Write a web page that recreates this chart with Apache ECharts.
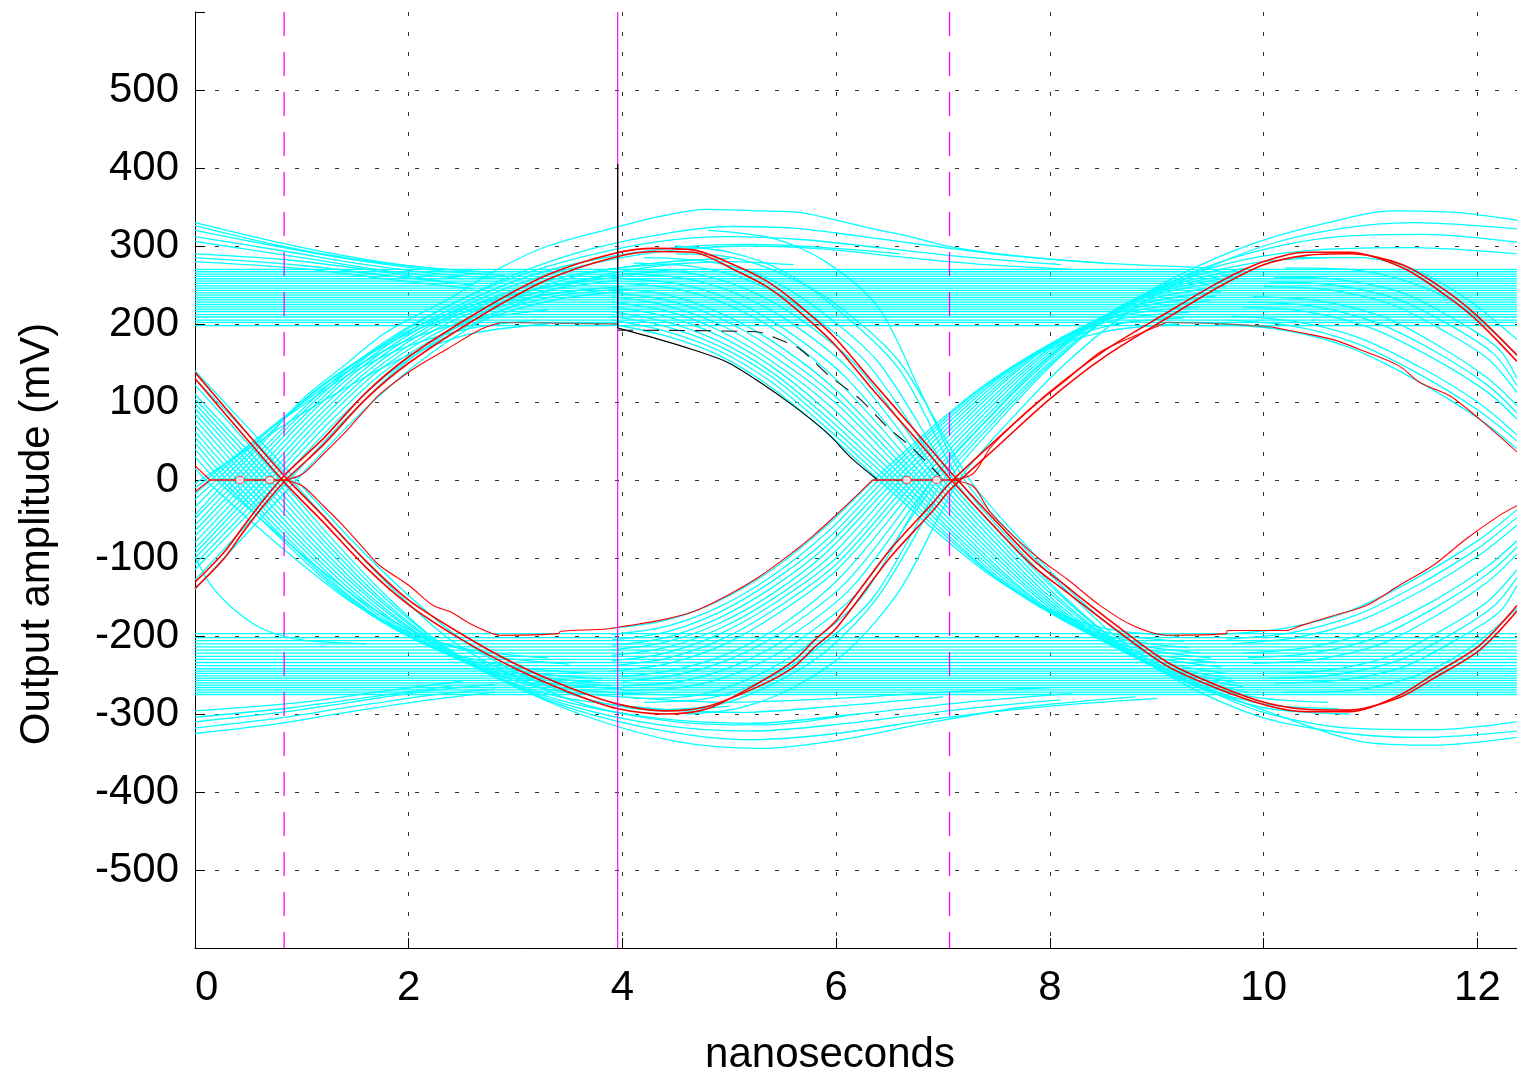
<!DOCTYPE html>
<html>
<head>
<meta charset="utf-8">
<title>Eye diagram</title>
<script src="https://cdn.jsdelivr.net/npm/echarts@6/dist/echarts.min.js"></script>
<style>
  html, body { margin: 0; padding: 0; background: #fff; }
  #main { width: 1517px; height: 1073px; }
</style>
</head>
<body>
<div id="main"></div>
<script>
// axis extents (ns, mV)
var timeSpan = [0, 12.37];
var ampSpan = [-600, 600];

// flat settled levels (mV), full width
var highLevels = [198, 202, 205, 209, 212, 216, 219, 222, 225, 228, 231, 234, 237, 240, 243, 246, 249, 252, 255, 258, 261, 264, 267, 270];
var lowLevels = [-197, -202, -206, -210, -214, -218, -222, -226, -230, -234, -238, -242, -245, -248, -251, -254, -257, -260, -263, -266, -269, -272, -275];

// arcs entering at the left edge
var arcsUpLeft = [
  [[0,330],[0.8,304],[1.42,287],[2.04,274],[2.6,268]],
  [[0,326],[0.8,300],[1.5,283],[2.2,272],[2.8,266]],
  [[0,320],[0.9,296],[1.6,280],[2.3,268],[2.9,262]],
  [[0,312],[0.9,292],[1.6,276],[2.3,264],[2.9,258]],
  [[0,306],[1.0,285],[1.8,268],[2.5,258]],
  [[0,290],[0.8,283],[1.6,270],[2.3,255]],
  [[0,285],[1.0,275],[1.8,262],[2.6,250]],
  [[0,280],[1.0,271],[1.9,256],[2.6,245]]
];
var arcsLowLeft = [
  [[0,-325],[0.8,-312],[1.5,-296],[2.2,-282],[2.8,-272]],
  [[0,-318],[0.8,-305],[1.5,-290],[2.2,-276],[2.8,-268]],
  [[0,-310],[0.8,-298],[1.5,-284],[2.2,-270],[2.8,-262]],
  [[0,-304],[0.9,-292],[1.7,-277],[2.4,-264]],
  [[0,-296],[1.0,-285],[1.8,-270],[2.5,-258]]
];

// transitions through the first crossing (~0.85 ns)
var fall0Traces = [
  [[0,15],[0.1,0],[0.5,-50],[1.0,-108],[1.5,-160],[2.0,-195],[2.6,-218],[3.3,-228]],
  [[0,30],[0.2,0],[0.7,-60],[1.2,-118],[1.7,-168],[2.2,-204],[2.8,-226],[3.5,-236]],
  [[0,40],[0.25,0],[0.75,-68],[1.25,-132],[1.75,-182],[2.3,-218],[3.0,-240],[3.7,-248]],
  [[0,48],[0.3,0],[0.8,-70],[1.3,-135],[1.8,-185],[2.35,-222],[3.05,-245],[3.8,-255]],
  [[0,55],[0.35,0],[0.85,-72],[1.35,-138],[1.85,-188],[2.4,-225],[3.1,-250],[3.8,-260]],
  [[0,62],[0.4,0],[0.9,-73],[1.4,-139],[1.9,-190],[2.45,-228],[3.15,-254],[3.9,-264]],
  [[0,70],[0.45,0],[0.95,-74],[1.45,-140],[1.95,-192],[2.5,-232],[3.2,-258],[4.0,-268]],
  [[0,78],[0.5,0],[1.0,-75],[1.5,-141],[2.0,-194],[2.55,-235],[3.25,-263],[4.1,-274],[5.0,-276]],
  [[0,85],[0.55,0],[1.05,-75],[1.55,-142],[2.05,-195],[2.6,-238],[3.3,-268],[4.2,-280],[5.0,-285],[6.0,-280],[7.0,-272],[8.0,-266]],
  [[0,92],[0.6,0],[1.1,-76],[1.6,-144],[2.1,-198],[2.65,-242],[3.35,-276],[4.2,-292],[5.1,-298],[6.0,-290],[7.0,-278]],
  [[0,98],[0.65,0],[1.15,-76],[1.65,-145],[2.15,-200],[2.7,-245],[3.4,-282],[4.3,-305],[5.2,-312],[6.2,-300],[7.2,-285],[8.2,-274]],
  [[0,104],[0.7,0],[1.2,-77],[1.7,-147],[2.2,-203],[2.75,-249],[3.45,-287],[4.35,-314],[5.2,-322],[6.1,-312],[7.1,-295],[8.1,-282]],
  [[0,110],[0.75,0],[1.25,-78],[1.75,-148],[2.25,-205],[2.8,-252],[3.5,-292],[4.4,-322],[5.2,-333],[6.0,-325],[7.0,-305],[8.0,-290],[9.0,-280]],
  [[0,122],[0.8,0],[1.3,-78],[1.8,-150],[2.3,-210],[2.9,-258],[3.6,-300],[4.5,-335],[5.3,-344],[6.0,-334],[6.8,-313],[7.7,-292],[8.8,-278]],
  [[0,130],[0.9,0],[1.4,-76],[1.9,-146],[2.4,-206],[3.0,-252],[3.7,-290],[4.5,-310],[5.3,-314],[6.1,-302]],
  [[0,140],[0.95,0],[1.45,-75],[1.95,-142],[2.45,-200],[3.0,-246],[3.7,-282],[4.4,-296],[5.0,-290]],
  [[0,-98],[0.15,-135],[0.4,-170],[0.65,-192],[1.0,-205],[1.6,-210]]
];
var rise0Traces = [
  [[0,-5],[0.05,0],[0.55,45],[1.0,85],[1.5,125],[2.0,160],[2.6,188],[3.3,200]],
  [[0,-10],[0.1,0],[0.6,55],[1.0,95],[1.5,140],[2.0,172],[2.6,195],[3.2,205]],
  [[0,-18],[0.15,0],[0.6,55],[1.0,98],[1.5,145],[2.0,180],[2.6,205],[3.3,218]],
  [[0,-25],[0.2,0],[0.6,52],[1.0,100],[1.5,150],[2.0,188],[2.6,218],[3.3,238],[4.0,248]],
  [[0,-35],[0.25,0],[0.7,60],[1.1,112],[1.6,160],[2.1,198],[2.7,228],[3.4,250],[4.1,262]],
  [[0,-45],[0.3,0],[0.64,48],[1.01,104],[1.39,146],[1.73,184],[2.0,206],[2.36,231],[2.83,270],[3.3,300],[3.91,323],[4.35,338],[4.79,347],[5.29,345],[5.66,343],[5.97,334],[6.38,321],[6.69,312],[7.07,299],[7.72,287],[8.5,278],[9.5,272]],
  [[0,-50],[0.35,0],[0.85,70],[1.35,134],[1.85,184],[2.35,222],[2.95,258],[3.6,285],[4.3,305],[5.0,312],[5.7,308],[6.4,298],[7.2,286],[8.1,276]],
  [[0,-58],[0.4,0],[0.9,72],[1.4,136],[1.9,186],[2.4,225],[3.0,264],[3.7,296],[4.4,316],[5.0,325],[5.6,323],[6.2,313],[6.9,300],[7.6,288],[8.5,278]],
  [[0,-65],[0.45,0],[0.95,73],[1.45,137],[1.95,186],[2.45,223],[3.05,258],[3.75,283],[4.5,298],[5.2,302],[5.9,298],[6.6,290]],
  [[0,-72],[0.5,0],[1.0,74],[1.5,138],[2.0,186],[2.5,222],[3.1,255],[3.8,280],[4.5,295],[5.2,300],[5.9,296],[6.6,286],[7.4,276],[8.2,270]],
  [[0,-80],[0.55,0],[1.05,74],[1.55,138],[2.05,186],[2.55,221],[3.15,250],[3.85,270],[4.6,278]],
  [[0,-88],[0.6,0],[1.1,74],[1.6,138],[2.1,186],[2.6,220],[3.2,245],[3.9,262],[4.6,268]],
  [[0,-94],[0.65,0],[1.15,74],[1.65,138],[2.15,185],[2.65,218],[3.25,242],[3.95,256]],
  [[0,-100],[0.7,0],[1.2,74],[1.7,138],[2.2,184],[2.7,215],[3.3,238],[4.0,248]],
  [[0,-108],[0.75,0],[1.25,73],[1.75,137],[2.25,182],[2.75,212],[3.35,235],[4.0,245]],
  [[0,-115],[0.8,0],[1.3,72],[1.8,135],[2.3,180],[2.8,210],[3.4,232],[4.0,242]],
  [[0,-128],[0.88,0],[1.38,74],[1.88,140],[2.4,192],[3.0,235],[3.6,262],[4.3,278],[5.0,284]],
  [[0,-140],[0.95,0],[1.45,72],[1.95,135],[2.45,185],[3.0,225],[3.6,255],[4.2,272],[5.0,280],[5.6,276]]
];

// transitions through the second crossing (~7.07 ns)
var fall1Traces = [
  [[3.9,200],[4.4,185],[4.9,160],[5.4,118],[5.9,62],[6.4,0],[6.9,-62],[7.4,-118],[7.9,-160],[8.5,-190],[9.2,-200]],
  [[3.9,205],[4.4,191],[4.9,166],[5.4,125],[5.9,68],[6.45,0],[6.95,-63],[7.45,-121],[7.95,-165],[8.55,-196],[9.25,-207]],
  [[3.9,210],[4.4,197],[4.9,172],[5.4,132],[5.9,75],[6.5,0],[7.0,-65],[7.5,-125],[8.0,-170],[8.6,-202],[9.3,-215]],
  [[3.9,216],[4.4,203],[4.9,178],[5.4,138],[5.9,82],[6.55,0],[7.05,-66],[7.55,-128],[8.05,-174],[8.65,-207],[9.4,-222]],
  [[3.9,222],[4.4,210],[4.9,185],[5.4,145],[5.9,90],[6.6,0],[7.1,-68],[7.6,-130],[8.1,-178],[8.7,-212],[9.5,-228]],
  [[3.9,228],[4.4,217],[4.9,192],[5.4,152],[5.95,94],[6.65,0],[7.15,-69],[7.65,-132],[8.15,-182],[8.75,-217],[9.55,-234]],
  [[3.9,235],[4.4,224],[4.9,200],[5.4,160],[6.0,98],[6.7,0],[7.2,-70],[7.7,-135],[8.2,-185],[8.8,-222],[9.6,-240]],
  [[3.9,240],[4.4,231],[4.9,208],[5.4,169],[6.0,106],[6.75,0],[7.25,-71],[7.75,-136],[8.25,-188],[8.85,-227],[9.65,-248]],
  [[3.9,245],[4.4,238],[4.9,215],[5.4,178],[6.0,115],[6.8,0],[7.3,-72],[7.8,-138],[8.3,-190],[8.9,-232],[9.7,-255]],
  [[4.0,252],[4.5,245],[5.0,224],[5.5,186],[6.05,122],[6.85,0],[7.35,-73],[7.85,-140],[8.35,-193],[8.95,-236],[9.75,-260]],
  [[4.0,258],[4.5,252],[5.0,232],[5.5,195],[6.1,130],[6.9,0],[7.4,-74],[7.9,-142],[8.4,-196],[9.0,-240],[9.8,-265]],
  [[4.0,264],[4.55,259],[5.05,240],[5.55,204],[6.15,138],[6.95,0],[7.45,-75],[7.95,-144],[8.45,-198],[9.05,-244],[9.85,-272]],
  [[4.0,270],[4.6,266],[5.1,248],[5.6,212],[6.2,145],[7.0,0],[7.5,-76],[8.0,-145],[8.5,-200],[9.1,-248],[9.9,-278],[10.6,-285]],
  [[4.1,278],[4.7,273],[5.2,255],[5.7,218],[6.3,148],[7.05,0],[7.55,-77],[8.05,-147],[8.55,-203],[9.15,-252],[9.95,-286],[10.7,-293]],
  [[4.2,285],[4.8,280],[5.3,262],[5.8,222],[6.4,150],[7.1,0],[7.6,-78],[8.1,-148],[8.6,-205],[9.2,-255],[10.0,-292],[10.8,-300]],
  [[4.5,300],[5.0,292],[5.5,268],[6.0,220],[6.6,140],[7.15,0],[7.65,-80],[8.15,-152],[8.7,-215],[9.3,-265],[10.0,-305],[10.8,-325],[11.5,-330],[12.37,-322]],
  [[4.8,320],[5.4,310],[5.9,280],[6.4,220],[6.8,110],[7.2,0],[7.7,-78],[8.2,-148],[8.7,-210],[9.3,-258],[10.0,-298],[10.8,-318],[11.6,-320],[12.37,-310]],
  [[4.5,290],[5.0,286],[5.5,264],[6.0,225],[6.6,150],[7.25,0],[7.75,-80],[8.25,-150],[8.8,-212],[9.4,-262],[10.1,-300],[10.9,-335],[11.6,-340],[12.37,-330]]
];
var rise1Traces = [
  [[3.9,-190],[4.4,-180],[4.9,-155],[5.4,-115],[5.9,-60],[6.35,0],[6.85,62],[7.35,118],[7.85,160],[8.5,190],[9.2,200]],
  [[3.9,-198],[4.4,-188],[4.9,-163],[5.4,-123],[5.9,-69],[6.4,0],[6.9,64],[7.4,122],[7.9,165],[8.55,198],[9.25,208]],
  [[3.9,-205],[4.4,-195],[4.9,-170],[5.4,-130],[5.9,-78],[6.45,0],[6.95,66],[7.45,125],[7.95,170],[8.6,205],[9.3,215]],
  [[3.9,-212],[4.4,-202],[4.9,-177],[5.4,-138],[5.9,-86],[6.5,0],[7.0,67],[7.5,128],[8.0,174],[8.65,210],[9.4,222]],
  [[3.9,-218],[4.4,-208],[4.9,-184],[5.4,-146],[5.9,-94],[6.55,0],[7.05,68],[7.55,130],[8.05,178],[8.7,214],[9.5,230]],
  [[3.9,-225],[4.4,-215],[4.9,-191],[5.4,-153],[5.95,-97],[6.6,0],[7.1,69],[7.6,132],[8.1,182],[8.75,219],[9.55,236]],
  [[3.9,-232],[4.4,-222],[4.9,-198],[5.4,-160],[6.0,-100],[6.65,0],[7.15,70],[7.65,135],[8.15,185],[8.8,224],[9.6,242]],
  [[3.9,-238],[4.4,-229],[4.9,-206],[5.4,-168],[6.0,-108],[6.7,0],[7.2,71],[7.7,136],[8.2,188],[8.85,229],[9.65,249]],
  [[3.9,-245],[4.4,-236],[4.9,-214],[5.4,-176],[6.0,-116],[6.75,0],[7.25,72],[7.75,138],[8.25,190],[8.9,234],[9.7,256]],
  [[4.0,-252],[4.5,-243],[5.0,-222],[5.5,-185],[6.05,-123],[6.8,0],[7.3,73],[7.8,140],[8.3,193],[8.95,238],[9.75,261]],
  [[4.0,-258],[4.5,-250],[5.0,-230],[5.5,-194],[6.1,-130],[6.85,0],[7.35,74],[7.85,142],[8.35,196],[9.0,242],[9.8,266]],
  [[4.0,-264],[4.55,-258],[5.05,-238],[5.55,-202],[6.15,-137],[6.9,0],[7.4,75],[7.9,143],[8.4,198],[9.05,246],[9.85,272]],
  [[4.0,-270],[4.6,-265],[5.1,-246],[5.6,-210],[6.2,-144],[6.95,0],[7.45,76],[7.95,145],[8.45,200],[9.1,250],[9.9,278],[10.6,285]],
  [[4.1,-280],[4.7,-276],[5.2,-254],[5.7,-215],[6.25,-148],[6.9,0],[7.4,76],[7.9,146],[8.45,205],[9.1,252],[9.8,282],[10.6,296],[11.4,298],[12.37,290]],
  [[4.2,-285],[4.8,-280],[5.3,-258],[5.8,-218],[6.35,-150],[7.0,0],[7.5,78],[8.0,148],[8.55,208],[9.2,258],[9.9,292],[10.7,312],[11.5,315],[12.37,305]],
  [[4.3,-295],[4.9,-288],[5.4,-262],[5.9,-220],[6.4,-148],[7.05,0],[7.55,80],[8.05,152],[8.6,214],[9.2,262],[9.9,303],[10.6,330],[11.2,345],[11.8,343],[12.37,333]],
  [[4.6,-300],[5.1,-292],[5.6,-266],[6.1,-220],[6.6,-140],[7.15,0],[7.65,80],[8.15,150],[8.7,212],[9.3,260],[10.0,300],[10.7,322],[11.4,330],[12.37,322]]
];

// transitions heading for the next crossing, cut by the right edge
var fall2Traces = [
  [[9.6,200],[10.2,192],[10.8,170],[11.4,130],[12.0,80],[12.37,40]],
  [[9.65,205],[10.25,198],[10.85,176],[11.45,136],[12.0,90],[12.37,50]],
  [[9.7,210],[10.3,203],[10.9,182],[11.5,142],[12.0,100],[12.37,58]],
  [[9.8,222],[10.4,216],[11.0,195],[11.6,155],[12.1,112],[12.37,78]],
  [[9.85,228],[10.45,223],[11.05,202],[11.6,165],[12.1,121],[12.37,86]],
  [[9.9,235],[10.5,230],[11.1,210],[11.6,175],[12.1,130],[12.37,95]],
  [[10.0,248],[10.6,244],[11.2,225],[11.7,190],[12.1,155],[12.37,112]],
  [[10.05,254],[10.65,250],[11.25,232],[11.75,198],[12.15,162],[12.37,121]],
  [[10.1,260],[10.7,257],[11.3,240],[11.8,205],[12.2,168],[12.37,130]],
  [[10.2,272],[10.8,270],[11.4,252],[11.9,218],[12.37,160]],
  [[10.3,285],[10.9,285],[11.4,270],[11.9,232],[12.37,180]]
];
var rise2Traces = [
  [[9.6,-198],[10.2,-190],[10.8,-168],[11.4,-128],[12.0,-78],[12.37,-38]],
  [[9.65,-204],[10.25,-196],[10.85,-174],[11.45,-134],[12.0,-88],[12.37,-48]],
  [[9.7,-210],[10.3,-202],[10.9,-180],[11.5,-140],[12.0,-98],[12.37,-58]],
  [[9.8,-222],[10.4,-215],[11.0,-194],[11.6,-154],[12.1,-110],[12.37,-78]],
  [[9.85,-228],[10.45,-222],[11.05,-202],[11.6,-164],[12.1,-120],[12.37,-86]],
  [[9.9,-235],[10.5,-230],[11.1,-210],[11.6,-175],[12.1,-130],[12.37,-95]],
  [[10.0,-248],[10.6,-244],[11.2,-225],[11.7,-190],[12.1,-155],[12.37,-115]],
  [[10.05,-254],[10.65,-250],[11.25,-232],[11.75,-198],[12.15,-162],[12.37,-125]],
  [[10.1,-260],[10.7,-257],[11.3,-240],[11.8,-205],[12.2,-170],[12.37,-135]],
  [[10.2,-272],[10.8,-270],[11.4,-252],[11.9,-218],[12.37,-165]]
];

// red reference pattern (two close copies each)
var redFallA = [
  [[0,130],[0.4,66],[0.85,-5],[1.2,-54],[1.6,-112],[2,-160],[2.5,-205],[3,-242],[3.5,-272],[3.95,-293],[4.4,-300],[4.8,-293],[5.3,-258],[5.6,-232],[5.8,-205],[6,-180],[6.5,-90],[6.9,-30],[7.07,-3],[7.5,52],[8,113],[8.5,165],[9.1,215],[9.6,255],[10,280],[10.4,292],[10.8,292],[11.3,272],[11.7,237],[12,204],[12.37,152]],
  [[0,138],[0.4,74],[0.85,3],[1.2,-46],[1.6,-104],[2,-154],[2.5,-198],[3,-236],[3.5,-266],[3.95,-287],[4.4,-296],[4.8,-290],[5.3,-263],[5.6,-240],[5.8,-214],[6,-190],[6.5,-100],[6.9,-40],[7.07,-12],[7.5,42],[8,104],[8.5,157],[9.1,208],[9.6,249],[10,276],[10.4,288],[10.8,290],[11.3,276],[11.7,243],[12,210],[12.37,160]]
];
var redRiseB = [
  [[0,-139],[0.27,-101],[0.45,-67],[0.64,-33],[0.85,0],[1.2,45],[1.6,104],[2,150],[2.67,210],[3.3,257],[3.91,285],[4.3,293],[4.66,292],[5.04,270],[5.35,248],[5.6,222],[5.97,176],[6.34,116],[6.72,57],[7.07,1],[7.53,-67],[7.84,-110],[8.16,-144],[8.56,-186],[9.09,-238],[9.56,-267],[10.03,-289],[10.4,-297],[10.8,-297],[11.27,-276],[11.58,-250],[12.02,-212],[12.37,-161]],
  [[0,-131],[0.27,-93],[0.45,-60],[0.64,-26],[0.85,8],[1.2,53],[1.6,112],[2,158],[2.67,217],[3.3,263],[3.91,290],[4.3,297],[4.66,295],[5.04,276],[5.35,255],[5.6,230],[5.97,185],[6.34,126],[6.72,66],[7.07,10],[7.53,-58],[7.84,-102],[8.16,-137],[8.56,-180],[9.09,-233],[9.56,-263],[10.03,-286],[10.4,-294],[10.8,-295],[11.27,-279],[11.58,-255],[12.02,-218],[12.37,-168]]
];

// red inner eye contours
var redInner = [
  [[0.85,0],[1.01,8],[1.2,33],[1.39,59],[1.58,88],[1.73,110],[2.04,142],[2.36,168],[2.67,193],[2.86,202]],
  [[0.85,0],[1.01,-8],[1.2,-33],[1.39,-59],[1.58,-88],[1.73,-110],[2.0,-135],[2.23,-161],[2.39,-169],[2.6,-186],[2.86,-199],[3.4,-197],[3.42,-194],[3.85,-191],[4.04,-187],[4.35,-180],[4.66,-169],[4.98,-148],[5.29,-123],[5.6,-92],[5.78,-72],[5.99,-46],[6.16,-24],[6.34,0]],
  [[7.07,0],[7.28,8],[7.44,41],[7.66,72],[7.9,101],[8.16,129],[8.47,164],[8.78,184],[9.09,202]],
  [[10.08,196],[10.34,189],[10.65,180],[10.96,164],[11.27,146],[11.46,125],[11.74,108],[12.02,78],[12.37,36]],
  [[7.07,0],[7.28,-8],[7.44,-41],[7.66,-72],[7.9,-101],[8.16,-127],[8.47,-161],[8.78,-187],[9.09,-199],[9.65,-197],[9.66,-193],[10.2,-193],[10.34,-187],[10.65,-174],[10.96,-161],[11.27,-135],[11.58,-110],[11.9,-75],[12.2,-46],[12.37,-33]],
  [[0,18],[0.14,0]],
  [[0,-15],[0.14,0]]
];
var redZeroRuns = [
  [[0.14,0],[0.85,0]],
  [[6.34,0],[7.07,0]]
];
var redRings = [[0.42,0],[0.7,0],[6.66,0],[6.94,0]];

// gray / black eye edges
var grayFlats = [
  [[2.86,202],[3.95,200]],
  [[9.09,202],[9.65,200],[10.08,196]]
];
var blackEdge = [[3.95,195],[4.35,180],[4.66,167],[4.98,151],[5.29,125],[5.6,95],[5.91,61],[6.15,27],[6.38,1]];
var blackDashed = [[3.95,192],[5.25,190],[5.47,180],[5.66,168],[5.94,133],[6.22,104],[6.47,69],[6.72,40],[6.97,5]];
var sampleTime = 3.955;
var sampleSpan = [195, 405];
var dashedTimes = [0.834, 7.06];

var chart = echarts.init(document.getElementById('main'));
var series = [];

function addLines(list, color, width, z, dash) {
  list.forEach(function (d) {
    series.push({
      type: 'line', data: d, symbol: 'none', smooth: 0.3, z: z,
      silent: true, animation: false,
      lineStyle: { color: color, width: width, type: dash || 'solid' }
    });
  });
}

// cyan flat levels
var flats = [];
highLevels.concat(lowLevels).forEach(function (v) {
  flats.push([[timeSpan[0], v], [timeSpan[1], v]]);
});
var cyan = '#00ffff';
addLines(flats, cyan, 1.3, 2);
addLines(arcsUpLeft, cyan, 1.3, 2);
addLines(arcsLowLeft, cyan, 1.3, 2);
addLines(fall0Traces, cyan, 1.3, 2);
addLines(rise0Traces, cyan, 1.3, 2);
addLines(fall1Traces, cyan, 1.3, 2);
addLines(rise1Traces, cyan, 1.3, 2);
addLines(fall2Traces, cyan, 1.3, 2);
addLines(rise2Traces, cyan, 1.3, 2);

addLines(redFallA, '#ff0000', 1.6, 4);
addLines(redRiseB, '#ff0000', 1.6, 4);
addLines(redInner, '#ff0000', 1.1, 4);
addLines(redZeroRuns, '#ff0000', 1.3, 4);
addLines(grayFlats, '#777777', 1.3, 4);
addLines([blackEdge], '#000000', 1.1, 5);
addLines([blackDashed], '#111111', 1.1, 5, [16, 10]);

series.push({
  type: 'scatter', data: redRings, symbol: 'circle', symbolSize: [9, 7], z: 6,
  silent: true, animation: false,
  itemStyle: { color: '#ffffff', borderColor: '#ff0000', borderWidth: 1 }
});

// markers: dashed magenta, solid magenta, black sample bar
dashedTimes.forEach(function (t) {
  series.push({
    type: 'line', data: [[t, ampSpan[1]], [t, ampSpan[0]]], symbol: 'none', z: 7,
    silent: true, animation: false,
    lineStyle: { color: '#ff00ff', width: 1.3, type: [24, 16] }
  });
});
series.push({
  type: 'line', data: [[sampleTime, ampSpan[1]], [sampleTime, ampSpan[0]]], symbol: 'none', z: 7,
  silent: true, animation: false,
  lineStyle: { color: '#ff00ff', width: 1.2 }
});
series.push({
  type: 'line', data: [[sampleTime, sampleSpan[0]], [sampleTime, sampleSpan[1]]], symbol: 'none', z: 8,
  silent: true, animation: false,
  lineStyle: { color: '#000000', width: 1.3 }
});

var font = 'Liberation Sans, Arial, sans-serif';

var option = {
  animation: false,
  grid: { left: 195, right: 0, top: 12, bottom: 125, outerBoundsMode: 'none', containLabel: false },
  xAxis: {
    type: 'value', min: timeSpan[0], max: timeSpan[1], interval: 2,
    name: 'nanoseconds', nameLocation: 'middle', nameGap: 86,
    nameTextStyle: { fontSize: 42, color: '#000', fontFamily: font, padding: [0, 52, 0, 0] },
    axisLine: { onZero: false, lineStyle: { color: '#000', width: 1 } },
    axisTick: { inside: true, length: 10, lineStyle: { color: '#000' } },
    axisLabel: { fontSize: 42, color: '#000', fontFamily: font, margin: 19, showMaxLabel: false, alignMinLabel: 'left' },
    splitLine: { show: true, showMaxLine: false, lineStyle: { color: '#333', width: 1, type: [4, 16] } }
  },
  yAxis: {
    type: 'value', min: ampSpan[0], max: ampSpan[1], interval: 100,
    name: 'Output amplitude (mV)', nameLocation: 'middle', nameGap: 137,
    nameTextStyle: { fontSize: 42, color: '#000', fontFamily: font, padding: [0, 108, 0, 0] },
    axisLine: { onZero: false, lineStyle: { color: '#000', width: 1 } },
    axisTick: { inside: true, length: 10, lineStyle: { color: '#000' } },
    axisLabel: {
      fontSize: 42, color: '#000', fontFamily: font, margin: 16,
      formatter: function (v) { return Math.abs(v) >= 600 ? '' : String(v); }
    },
    splitLine: { show: true, showMaxLine: false, lineStyle: { color: '#333', width: 1, type: [4, 16] } }
  },
  series: series
};

chart.setOption(option);
</script>
</body>
</html>
